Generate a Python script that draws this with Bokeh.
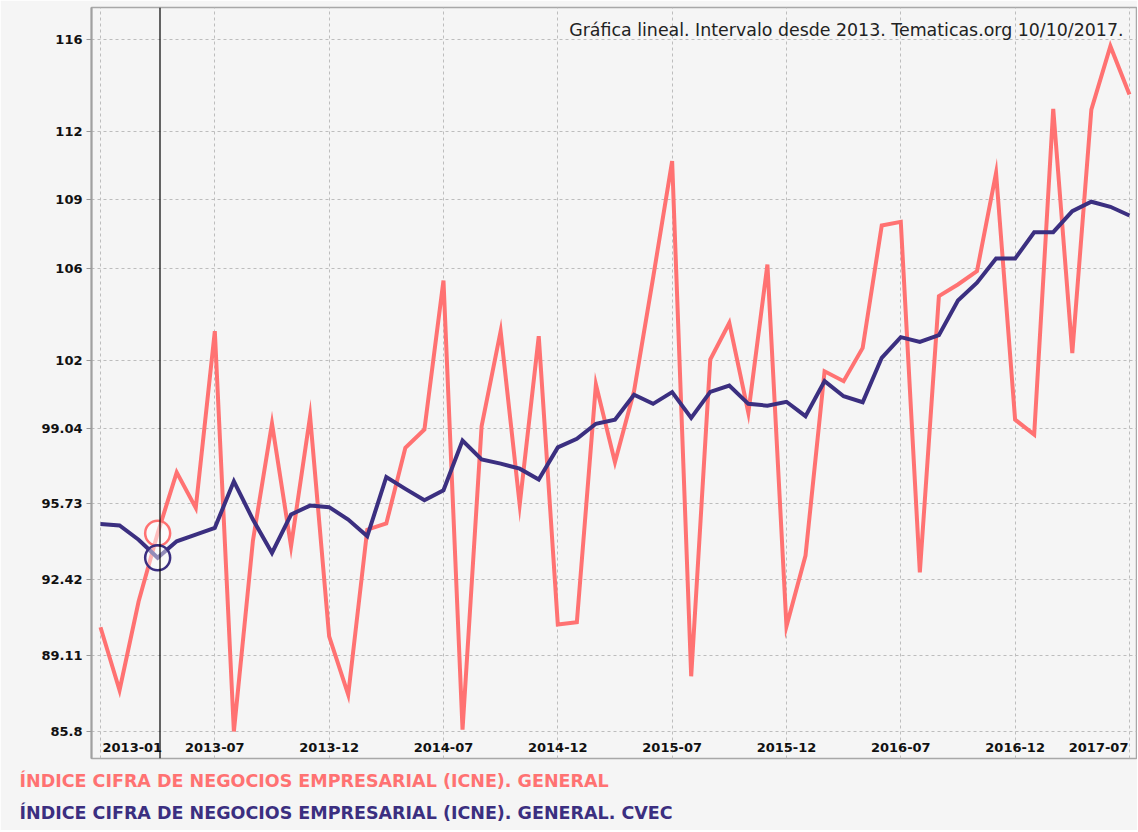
from bokeh.plotting import figure
from bokeh.models import FixedTicker, Span, Label, ColumnDataSource, Title
from bokeh.core.properties import value
from bokeh.embed import file_html
from bokeh.resources import INLINE

# ---- data (monthly index, 2013-01 .. 2017-07) ----
icne_general = [90.35, 87.6, 91.47, 94.45, 97.11, 95.56, 103.27, 85.8, 94.13, 99.24,
                93.88, 99.56, 89.95, 87.41, 94.61, 94.88, 98.18, 98.98, 105.48, 85.88,
                99.12, 103.27, 95.7, 103.05, 90.47, 90.57, 100.94, 97.55, 100.65, 105.6,
                110.69, 88.21, 102.03, 103.63, 99.71, 106.18, 90.39, 93.48, 101.52, 101.09,
                102.54, 107.88, 108.04, 92.74, 104.8, 105.31, 105.89, 110.18, 99.41, 98.76,
                112.97, 102.32, 112.94, 115.71, 113.6]
icne_cvec = [94.86, 94.79, 94.17, 93.38, 94.1, 94.39, 94.69, 96.72, 95.05, 93.59,
             95.27, 95.66, 95.59, 95.05, 94.32, 96.91, 96.39, 95.89, 96.33, 98.5,
             97.67, 97.49, 97.27, 96.8, 98.2, 98.57, 99.23, 99.41, 100.5, 100.1,
             100.61, 99.49, 100.62, 100.9, 100.1, 100.02, 100.19, 99.56, 101.09, 100.43,
             100.17, 102.11, 103.01, 102.8, 103.1, 104.61, 105.39, 106.44, 106.44, 107.59,
             107.59, 108.51, 108.92, 108.7, 108.32]
month_index = list(range(len(icne_general)))

x_tick_index = [0, 6, 12, 18, 24, 30, 36, 42, 48, 54]
x_tick_labels = ["2013-01", "2013-07", "2013-12", "2014-07", "2014-12",
                 "2015-07", "2015-12", "2016-07", "2016-12", "2017-07"]
y_tick_values = [85.8, 89.11, 92.42, 95.73, 99.04, 102, 106, 109, 112, 116]
y_tick_labels = ["85.8", "89.11", "92.42", "95.73", "99.04", "102", "106", "109", "112", "116"]

highlight_index = 3

series_names = ["ÍNDICE CIFRA DE NEGOCIOS EMPRESARIAL (ICNE). GENERAL",
                "ÍNDICE CIFRA DE NEGOCIOS EMPRESARIAL (ICNE). GENERAL. CVEC"]
title_text = "Gráfica lineal. Intervalo desde 2013. Tematicas.org 10/10/2017."

# ---- styling / layout ----
RED = "#ff7272"
BLUE = "#3b2f80"
BG = "#f5f5f5"
FONT = "DejaVu Sans"

W, H = 1137, 830
BORDER_L, BORDER_R, BORDER_T, BORDER_B = 91, 1, 7, 72
FRAME_W = W - BORDER_L - BORDER_R
FRAME_H = H - BORDER_T - BORDER_B

X0, X1 = -0.472, 54.37
Y0, Y1 = 84.622, 117.397


def x_at(px):
    return X0 + px * (X1 - X0) / FRAME_W


def y_at(px):
    return Y1 - px * (Y1 - Y0) / FRAME_H


p = figure(width=W, height=H, x_range=(X0, X1), y_range=(Y0, Y1),
           output_backend="svg", toolbar_location=None,
           min_border_left=BORDER_L, min_border_right=BORDER_R,
           min_border_top=BORDER_T, min_border_bottom=BORDER_B)
p.background_fill_color = BG
p.border_fill_color = BG
p.outline_line_color = "#a8a8a8"
p.outline_line_width = 1.5

# axes
p.yaxis.ticker = FixedTicker(ticks=y_tick_values)
p.yaxis.major_label_overrides = {v: s for v, s in zip(y_tick_values, y_tick_labels)}
p.yaxis.major_label_text_font = FONT
p.yaxis.major_label_text_font_style = "bold"
p.yaxis.major_label_text_font_size = "13px"
p.yaxis.major_label_text_color = "#111111"
p.yaxis.major_label_standoff = 4
p.yaxis.axis_line_color = "#a0a0a0"
p.yaxis.axis_line_width = 2
p.yaxis.major_tick_line_color = "#999999"
p.yaxis.major_tick_out = 5
p.yaxis.major_tick_in = 0
p.yaxis.minor_tick_line_color = None

p.xaxis.visible = False

for g in (p.xgrid, p.ygrid):
    g.grid_line_color = "#bdbdbd"
    g.grid_line_dash = "3 3"
    g.grid_line_width = 1
p.xgrid.ticker = FixedTicker(ticks=x_tick_index)
p.ygrid.ticker = FixedTicker(ticks=y_tick_values)

# series
p.line(month_index, icne_general, line_color=RED, line_width=4, line_join="miter")
p.line(month_index, icne_cvec, line_color=BLUE, line_width=4, line_join="miter")

# hover-like markers
p.scatter([month_index[highlight_index]], [icne_general[highlight_index]], size=25,
          marker="circle", line_color=RED, line_width=2.5, fill_color="white", fill_alpha=0.55)
p.scatter([month_index[highlight_index]], [icne_cvec[highlight_index]], size=25,
          marker="circle", line_color=BLUE, line_width=2.5, fill_color="white", fill_alpha=0.45)
p.add_layout(Span(location=x_at(68.5), dimension="height", line_color="black", line_width=1.2))

# x tick labels drawn inside the frame
lab_y = y_at(FRAME_H - 11)
aligns = ["left"] + ["center"] * (len(x_tick_index) - 2) + ["right"]
for xi, lab, align in zip(x_tick_index, x_tick_labels, aligns):
    src = ColumnDataSource(dict(x=[xi], y=[lab_y], t=[lab]))
    p.text(x="x", y="y", text="t", source=src, text_align=align, text_baseline="middle",
           text_font=value(FONT), text_font_style="bold", text_font_size="13px",
           text_color="#111111", x_offset={"left": 2, "center": 0, "right": -1}[align])

# chart caption (top right)
p.add_layout(Label(x=x_at(1032), y=y_at(22), text=title_text, text_align="right",
                   text_baseline="alphabetic", text_font=FONT, text_font_size="17.4px",
                   text_color="#222222"))

# legend texts below the plot
for name, col, stand in ((series_names[0], RED, 20), (series_names[1], BLUE, 0)):
    p.add_layout(Title(text=name, align="left", offset=-72, standoff=stand,
                       text_font=FONT, text_font_style="bold", text_font_size="17.5px",
                       text_color=col), "below")

open("out.html", "w").write(file_html(p, INLINE))
